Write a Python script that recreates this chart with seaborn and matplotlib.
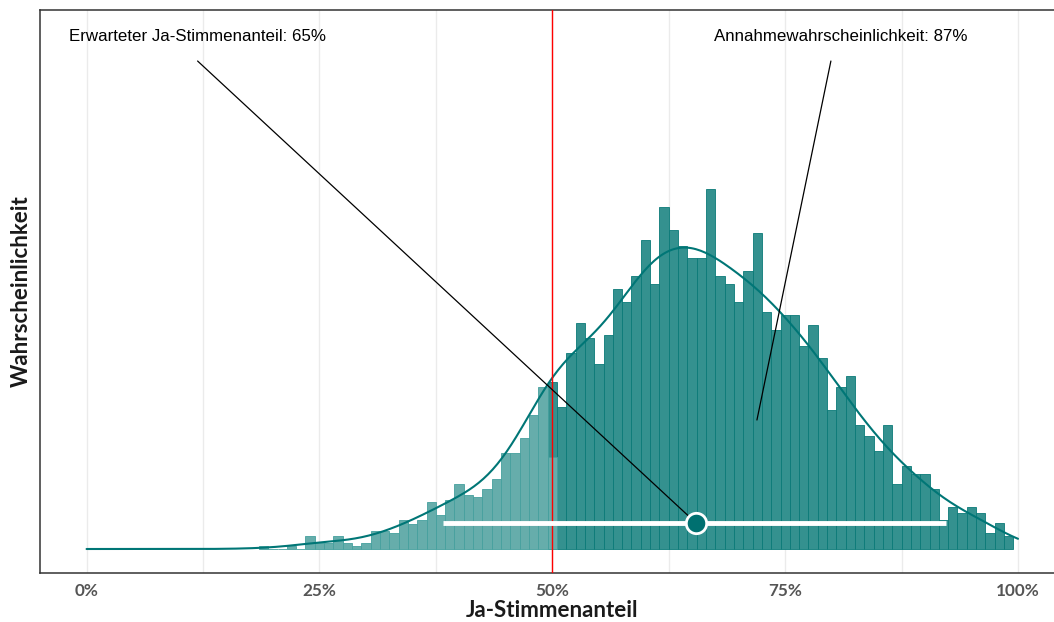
import numpy as np
import pandas as pd
import matplotlib
matplotlib.use('Agg')
import matplotlib.pyplot as plt
import seaborn as sns

# Histogramm der simulierten Ja-Stimmenanteile (Balkenhöhen)
bin_start = 0.185
bin_breite = 0.01

# Balken links von 50% (hell), 32 Klassen ab 0.185
hoehe_nein = [3.3, 0, 0, 3.3, 0, 13, 6.3, 6.3, 13, 6.3,
              3.3, 6.3, 18, 18, 16.3, 29, 24.7, 29, 47, 34.3,
              49, 65, 54, 52, 60, 70, 95.7, 95.7, 111.3, 134,
              161.7, 92.3]

# Balken ab 50% (dunkel), 50 Klassen ab 0.495
hoehe_ja = [167, 142, 196.3, 226, 211, 185.3, 214.3, 260.3, 247, 273,
            309, 265, 342.3, 319, 303, 291, 291, 360, 273, 265,
            247, 278.3, 316.3, 237, 219, 234, 234, 203, 224, 191,
            139, 162, 173, 124, 113, 98, 124, 65, 83, 75,
            75, 60, 29, 42, 36, 42, 36, 16, 26, 13]

schwelle = 0.5
erwartet = 0.654
intervall = [0.383, 0.923]

anno_texte = ['Erwarteter Ja-Stimmenanteil: 65%', 'Annahmewahrscheinlichkeit: 87%']
anno_text_x = [0.1195, 0.8093]
anno_start_x = [0.1192, 0.7991]
anno_ziel_x = [erwartet, 0.7197]
anno_ziel_y = [26.3, 129]

tick_pos = [0, 0.25, 0.5, 0.75, 1.0]
tick_labels = ['0%', '25%', '50%', '75%', '100%']

teal = '#007676'

kanten_nein = bin_start + bin_breite * np.arange(len(hoehe_nein) + 1)
kanten_ja = kanten_nein[-2] + bin_breite * np.arange(len(hoehe_ja) + 1)
df_nein = pd.DataFrame({'mitte': (kanten_nein[:-1] + kanten_nein[1:]) / 2,
                        'hoehe': hoehe_nein})
df_ja = pd.DataFrame({'mitte': (kanten_ja[:-1] + kanten_ja[1:]) / 2,
                      'hoehe': hoehe_ja})
df_alle = pd.concat([df_nein, df_ja], ignore_index=True)

sns.set_style('white')
fig = plt.figure(figsize=(10.54, 6.22), dpi=100)
ax = fig.add_axes([0.03795, 0.07878, 0.9721, 0.9051])

# vertikale Gitterlinien
for gx in np.arange(0, 1.01, 0.125):
    ax.axvline(gx, color='#ebebeb', lw=1, zorder=0)

sns.histplot(data=df_ja, x='mitte', weights='hoehe', bins=list(kanten_ja), ax=ax,
             color='#34918f', edgecolor='#0a7a78', linewidth=0.6, alpha=1, zorder=2)
sns.histplot(data=df_nein, x='mitte', weights='hoehe', bins=list(kanten_nein), ax=ax,
             color='#66adab', edgecolor='#45a09e', linewidth=0.6, alpha=1, zorder=3)

# Dichtekurve über alle Klassen, auf Balkenhöhe skaliert
n_linien = len(ax.lines)
sns.kdeplot(data=df_alle, x='mitte', weights='hoehe', bw_adjust=0.47, clip=(0, 1), cut=10,
            gridsize=400, color=teal, lw=1.5, ax=ax, zorder=4)
kde = ax.lines[n_linien]
kde.set_ydata(np.asarray(kde.get_ydata()) * df_alle['hoehe'].sum() * bin_breite)

ax.axvline(schwelle, color='#ff0000', lw=1, zorder=5)

ax.hlines(anno_ziel_y[0], intervall[0], intervall[1], color='white', lw=3.5, zorder=6)
ax.scatter([erwartet], [anno_ziel_y[0]], s=215, color='#007070',
           edgecolor='white', linewidths=2, zorder=8)

for txt, tx, sx, zx, zy in zip(anno_texte, anno_text_x, anno_start_x, anno_ziel_x, anno_ziel_y):
    ax.text(tx, 513, txt, ha='center', va='center', fontsize=12.2,
            family='Liberation Sans', color='black', zorder=9)
    ax.annotate('', xy=(zx, zy), xytext=(sx, 488),
                arrowprops=dict(arrowstyle='-', color='black', lw=0.9,
                                shrinkA=0, shrinkB=0), zorder=7)

ax.set_xlim(-0.05, 1.05)
ax.set_ylim(-24, 539)
ax.set_xticks(tick_pos)
ax.set_xticklabels(tick_labels, fontsize=12.3, fontweight='bold',
                   family='Lato', color='#555555')
ax.set_yticks([])
ax.tick_params(axis='x', length=0, pad=7)
ax.set_xlabel('Ja-Stimmenanteil', fontsize=16, fontweight='bold', family='Lato',
              color='#1a1a1a', labelpad=1)
ax.set_ylabel('Wahrscheinlichkeit', fontsize=16, fontweight='bold', family='Lato',
              color='#1a1a1a', labelpad=6)
for s in ax.spines.values():
    s.set_color('#333333')
    s.set_linewidth(1.1)

fig.savefig('out.png', dpi=100)
